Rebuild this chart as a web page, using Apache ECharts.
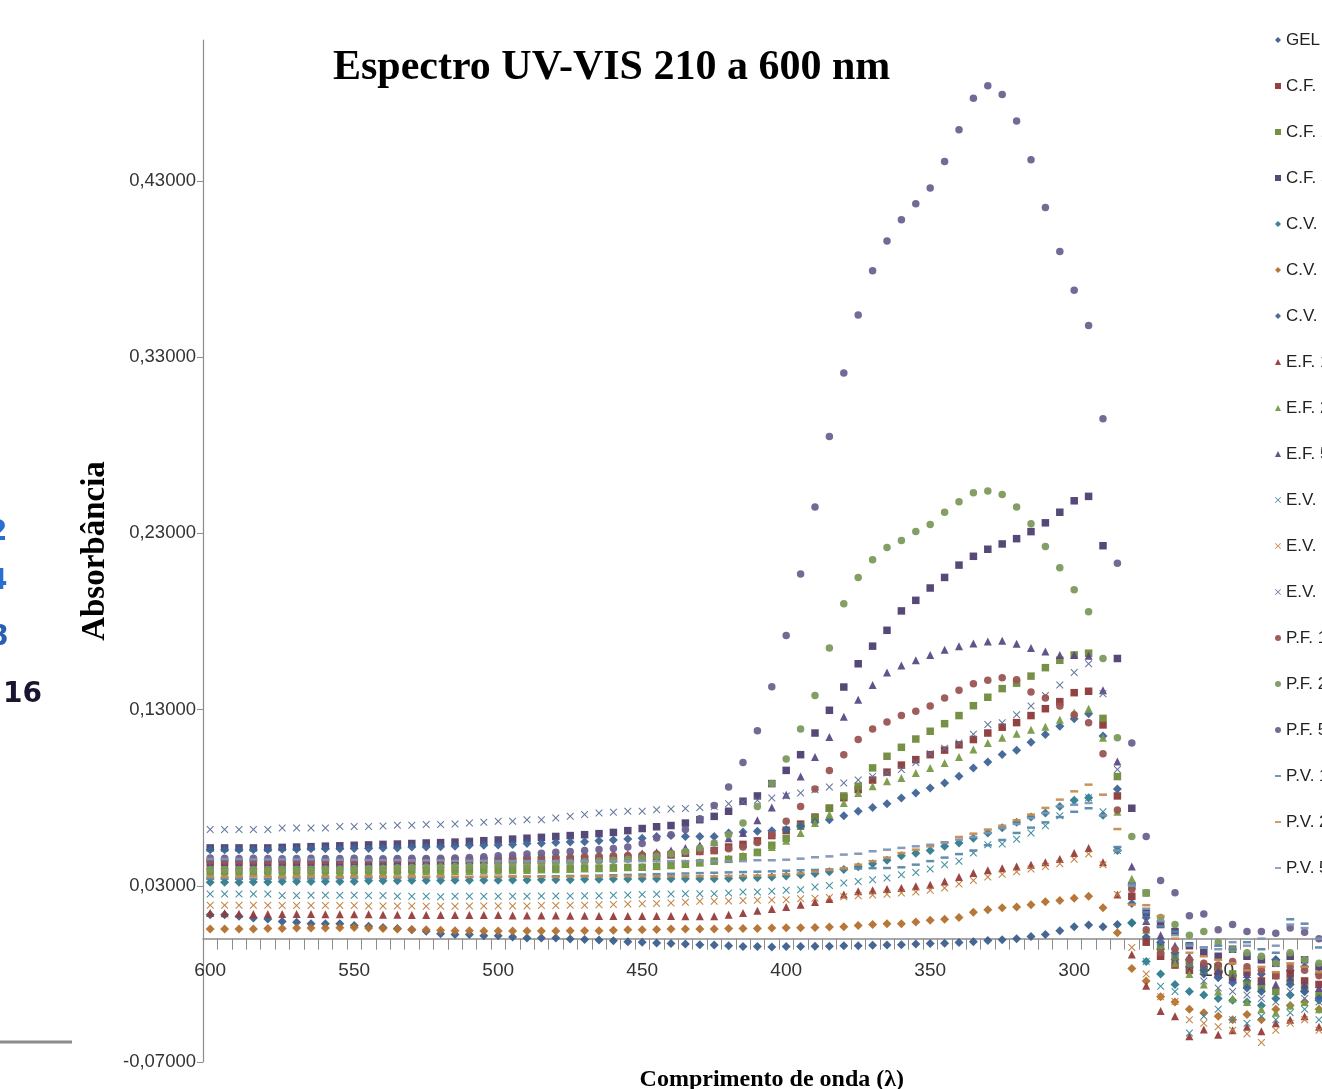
<!DOCTYPE html>
<html>
<head>
<meta charset="utf-8">
<title>Espectro UV-VIS 210 a 600 nm</title>
<script src="https://cdn.jsdelivr.net/npm/echarts@6/dist/echarts.min.js"></script>
<style>
  html, body { margin: 0; padding: 0; background: #fff; overflow: hidden; }
  #chart { width: 1500px; height: 1089px; }
</style>
</head>
<body>
<div id="chart"></div>
<script>
// comprimento de onda (nm), eixo invertido 600 -> 210
const wavelengths = [
  600, 595, 590, 585, 580, 575, 570, 565, 560, 555, 550, 545, 540, 535, 530, 525, 520, 515, 510, 505,
  500, 495, 490, 485, 480, 475, 470, 465, 460, 455, 450, 445, 440, 435, 430, 425, 420, 415, 410, 405,
  400, 395, 390, 385, 380, 375, 370, 365, 360, 355, 350, 345, 340, 335, 330, 325, 320, 315, 310, 305,
  300, 295, 290, 285, 280, 275, 270, 265, 260, 255, 250, 245, 240, 235, 230, 225, 220, 215, 210
];

const seriesNames = [
  'GEL', 'C.F. 1', 'C.F. 2', 'C.F. 5', 'C.V. 1', 'C.V. 2', 'C.V. 5',
  'E.F. 1', 'E.F. 2', 'E.F. 5', 'E.V. 1', 'E.V. 2', 'E.V. 5',
  'P.F. 1', 'P.F. 2', 'P.F. 5', 'P.V. 1', 'P.V. 2', 'P.V. 5'
];

// absorbancias (600..455 | 450..300 | 295..210)
const gel = [
  .0136,.0136,.0127,.0117,.0111,.0098,.0093,.0085,.0085,.0085,.0074,.0070,.0064,.0058,.0050,.0042,.0028,.0024,.0024,.0017,.0017,.0010,.0004,.0004,.0004,-.0002,-.0005,-.0008,-.0012,-.0017,
  -.0020,-.0024,-.0028,-.0030,-.0034,-.0036,-.0040,-.0045,-.0045,-.0047,-.0045,-.0045,-.0043,-.0043,-.0040,-.0040,-.0038,-.0036,-.0034,-.0030,-.0028,-.0026,-.0022,-.0017,-.0010,-.0006,.0000,.0012,.0023,.0045,.0068,
  .0078,.0068,.0080,.0089,.0010,-.0060,-.0120,-.0160,-.0200,-.0220,-.0210,-.0240,-.0200,-.0120,-.0180,-.0160,-.0200,-.0220
];
const cf1 = [
  .0430,.0430,.0430,.0430,.0430,.0430,.0432,.0432,.0432,.0432,.0435,.0435,.0435,.0437,.0437,.0438,.0438,.0440,.0440,.0442,.0442,.0443,.0445,.0445,.0447,.0448,.0450,.0452,.0455,.0458,
  .0462,.0468,.0475,.0485,.0495,.0500,.0520,.0535,.0555,.0585,.0615,.0650,.0690,.0740,.0800,.0846,.0900,.0945,.0985,.1016,.1044,.1070,.1100,.1130,.1167,.1200,.1226,.1266,.1305,.1345,.1396,
  .1404,.1213,.0810,.0240,-.0020,-.0100,-.0150,-.0180,-.0160,-.0200,-.0220,-.0190,-.0240,-.0210,-.0200,-.0240,-.0260,-.0280
];
const cf2 = [
  .0382,.0382,.0382,.0382,.0384,.0384,.0384,.0384,.0386,.0386,.0386,.0388,.0388,.0388,.0390,.0390,.0390,.0392,.0392,.0394,.0394,.0394,.0396,.0396,.0398,.0398,.0400,.0400,.0402,.0404,
  .0405,.0410,.0415,.0422,.0430,.0440,.0450,.0465,.0490,.0530,.0570,.0638,.0685,.0740,.0810,.0865,.0969,.1035,.1086,.1133,.1177,.1220,.1266,.1322,.1370,.1419,.1450,.1490,.1538,.1580,.1610,
  .1620,.1250,.0920,.0300,.0259,-.0040,-.0100,-.0140,-.0180,-.0160,-.0200,-.0260,-.0280,-.0300,-.0240,-.0280,-.0320,-.0340
];
const cf5 = [
  .0515,.0515,.0515,.0515,.0515,.0518,.0520,.0522,.0525,.0527,.0530,.0532,.0535,.0537,.0540,.0543,.0545,.0548,.0552,.0556,.0560,.0565,.0570,.0575,.0580,.0585,.0590,.0596,.0603,.0613,
  .0625,.0635,.0642,.0656,.0675,.0694,.0723,.0780,.0810,.0880,.0955,.1044,.1167,.1296,.1428,.1560,.1660,.1750,.1860,.1920,.1990,.2050,.2120,.2170,.2210,.2240,.2270,.2310,.2360,.2420,.2485,
  .2510,.2230,.1590,.0740,.0150,.0080,.0040,-.0040,-.0080,-.0100,-.0060,-.0100,-.0120,-.0140,-.0100,-.0120,-.0160,-.0180
];
const cv1 = [
  .0320,.0320,.0320,.0322,.0322,.0325,.0325,.0325,.0325,.0325,.0325,.0328,.0328,.0328,.0330,.0330,.0330,.0331,.0331,.0331,.0331,.0333,.0333,.0335,.0335,.0335,.0337,.0337,.0338,.0338,
  .0340,.0340,.0340,.0340,.0340,.0340,.0342,.0345,.0345,.0350,.0355,.0362,.0370,.0380,.0392,.0408,.0425,.0445,.0470,.0485,.0500,.0524,.0543,.0570,.0600,.0630,.0660,.0690,.0713,.0750,.0785,
  .0800,.0700,.0500,.0090,-.0130,-.0200,-.0260,-.0300,-.0320,-.0340,-.0350,-.0360,-.0380,-.0340,-.0320,-.0300,-.0350,-.0360
];
const cv2 = [
  .0055,.0055,.0055,.0055,.0057,.0058,.0060,.0060,.0060,.0062,.0064,.0060,.0058,.0055,.0052,.0050,.0047,.0045,.0045,.0043,.0043,.0043,.0043,.0043,.0043,.0045,.0045,.0045,.0047,.0050,
  .0050,.0052,.0055,.0055,.0055,.0055,.0057,.0058,.0058,.0060,.0062,.0062,.0064,.0066,.0068,.0074,.0080,.0085,.0085,.0095,.0105,.0110,.0120,.0150,.0164,.0176,.0180,.0193,.0210,.0216,.0230,
  .0240,.0176,.0034,-.0170,-.0240,-.0330,-.0360,-.0400,-.0420,-.0440,-.0460,-.0430,-.0460,-.0400,-.0380,-.0360,-.0400,-.0420
];
const cv5 = [
  .0505,.0505,.0505,.0505,.0505,.0507,.0507,.0510,.0510,.0510,.0512,.0512,.0515,.0515,.0520,.0520,.0522,.0525,.0530,.0530,.0532,.0535,.0540,.0542,.0545,.0548,.0550,.0555,.0560,.0565,
  .0570,.0580,.0585,.0580,.0580,.0580,.0600,.0605,.0610,.0612,.0620,.0640,.0660,.0675,.0698,.0723,.0745,.0766,.0798,.0827,.0855,.0883,.0921,.0969,.1003,.1045,.1069,.1114,.1158,.1205,.1248,
  .1277,.1150,.0850,.0200,.0120,-.0020,-.0080,-.0120,-.0180,-.0220,-.0250,-.0280,-.0300,-.0120,-.0260,-.0300,-.0340,-.0340
];
const ef1 = [
  .0146,.0144,.0142,.0140,.0140,.0140,.0140,.0140,.0138,.0138,.0138,.0138,.0136,.0136,.0134,.0134,.0134,.0134,.0134,.0134,.0134,.0132,.0132,.0132,.0132,.0130,.0130,.0128,.0128,.0128,
  .0128,.0128,.0128,.0127,.0127,.0127,.0136,.0146,.0158,.0168,.0180,.0193,.0208,.0225,.0250,.0269,.0274,.0282,.0288,.0297,.0306,.0325,.0350,.0373,.0388,.0400,.0410,.0420,.0433,.0452,.0486,
  .0515,.0433,.0250,-.0090,-.0267,-.0410,-.0440,-.0554,-.0516,-.0545,-.0520,-.0500,-.0526,-.0480,-.0460,-.0440,-.0500,-.0520
];
const ef2 = [
  .0370,.0370,.0370,.0372,.0372,.0372,.0374,.0374,.0374,.0376,.0376,.0378,.0378,.0380,.0380,.0382,.0382,.0384,.0384,.0386,.0386,.0388,.0390,.0392,.0394,.0396,.0398,.0400,.0403,.0406,
  .0410,.0415,.0420,.0428,.0435,.0442,.0455,.0470,.0490,.0520,.0555,.0600,.0656,.0704,.0770,.0827,.0865,.0893,.0912,.0940,.0969,.0997,.1031,.1073,.1110,.1140,.1163,.1186,.1203,.1243,.1283,
  .1305,.1140,.0720,.0340,.0050,-.0060,-.0140,-.0200,-.0260,-.0300,-.0340,-.0360,-.0400,-.0420,-.0380,-.0360,-.0400,-.0440
];
const ef5 = [
  .0420,.0420,.0420,.0420,.0422,.0422,.0424,.0424,.0426,.0428,.0430,.0432,.0434,.0436,.0438,.0440,.0442,.0444,.0446,.0448,.0450,.0452,.0455,.0458,.0461,.0464,.0468,.0472,.0476,.0480,
  .0485,.0490,.0500,.0515,.0530,.0550,.0570,.0600,.0672,.0745,.0817,.0920,.1031,.1144,.1260,.1356,.1440,.1510,.1550,.1580,.1610,.1640,.1660,.1675,.1686,.1690,.1674,.1650,.1630,.1610,.1610,
  .1606,.1410,.1005,.0410,.0100,.0020,-.0040,-.0100,-.0140,-.0180,-.0220,-.0200,-.0240,-.0260,-.0220,-.0260,-.0280,-.0300
];
const ev1 = [
  .0253,.0253,.0253,.0253,.0253,.0245,.0245,.0247,.0247,.0247,.0247,.0245,.0245,.0240,.0240,.0240,.0238,.0240,.0240,.0240,.0240,.0240,.0240,.0242,.0242,.0242,.0244,.0244,.0246,.0248,
  .0250,.0252,.0253,.0255,.0255,.0255,.0259,.0265,.0265,.0269,.0274,.0278,.0293,.0301,.0316,.0325,.0335,.0344,.0363,.0376,.0395,.0420,.0439,.0486,.0533,.0537,.0564,.0600,.0641,.0698,.0774,
  .0800,.0720,.0500,.0300,-.0130,-.0270,-.0300,-.0535,-.0440,-.0400,-.0460,-.0480,-.0440,-.0460,-.0420,-.0400,-.0460,-.0480
];
const ev2 = [
  .0190,.0190,.0190,.0190,.0190,.0188,.0188,.0188,.0188,.0188,.0188,.0186,.0186,.0186,.0186,.0184,.0184,.0184,.0186,.0186,.0186,.0186,.0186,.0188,.0188,.0190,.0190,.0192,.0194,.0196,
  .0198,.0200,.0203,.0207,.0212,.0212,.0214,.0216,.0218,.0220,.0221,.0226,.0230,.0234,.0238,.0244,.0248,.0252,.0259,.0265,.0275,.0288,.0310,.0330,.0350,.0365,.0380,.0395,.0410,.0425,.0450,
  .0480,.0420,.0250,-.0050,-.0200,-.0330,-.0356,-.0460,-.0480,-.0500,-.0520,-.0540,-.0590,-.0520,-.0480,-.0460,-.0520,-.0540
];
const ev5 = [
  .0620,.0620,.0620,.0620,.0620,.0628,.0628,.0628,.0628,.0636,.0636,.0636,.0640,.0644,.0644,.0648,.0648,.0650,.0656,.0660,.0666,.0666,.0675,.0675,.0685,.0694,.0704,.0713,.0717,.0723,
  .0723,.0732,.0736,.0738,.0745,.0750,.0766,.0775,.0785,.0798,.0810,.0827,.0845,.0861,.0883,.0900,.0920,.0940,.0960,.1000,.1050,.1080,.1110,.1160,.1215,.1226,.1270,.1320,.1380,.1440,.1510,
  .1560,.1390,.0960,.0300,.0100,-.0020,-.0100,-.0160,-.0240,-.0280,-.0300,-.0320,-.0340,-.0360,-.0300,-.0340,-.0360,-.0380
];
const pf1 = [
  .0440,.0440,.0440,.0440,.0440,.0440,.0442,.0442,.0442,.0444,.0444,.0446,.0446,.0448,.0448,.0450,.0450,.0452,.0452,.0454,.0454,.0456,.0458,.0460,.0462,.0464,.0466,.0468,.0470,.0472,
  .0475,.0480,.0485,.0490,.0495,.0500,.0510,.0520,.0545,.0590,.0666,.0750,.0850,.0955,.1044,.1130,.1190,.1230,.1266,.1290,.1320,.1366,.1410,.1447,.1466,.1480,.1470,.1400,.1366,.1320,.1270,
  .1226,.1050,.0730,.0280,.0050,-.0080,-.0060,-.0120,-.0140,-.0150,-.0130,-.0160,-.0180,-.0210,-.0160,-.0180,-.0210,-.0240
];
const pf2 = [
  .0392,.0392,.0392,.0392,.0392,.0394,.0394,.0394,.0396,.0396,.0398,.0398,.0400,.0402,.0404,.0406,.0408,.0410,.0412,.0414,.0416,.0418,.0420,.0424,.0428,.0432,.0436,.0440,.0445,.0450,
  .0458,.0468,.0480,.0495,.0515,.0543,.0590,.0656,.0750,.0880,.1020,.1190,.1380,.1650,.1900,.2050,.2150,.2220,.2260,.2310,.2350,.2420,.2480,.2530,.2540,.2520,.2450,.2355,.2225,.2105,.1980,
  .1855,.1590,.1140,.0580,.0260,.0120,.0080,.0020,.0040,-.0020,-.0060,-.0080,-.0100,-.0140,-.0080,-.0120,-.0140,-.0160
];
const pf5 = [
  .0458,.0456,.0455,.0456,.0455,.0454,.0455,.0456,.0455,.0455,.0456,.0455,.0454,.0455,.0456,.0455,.0456,.0458,.0460,.0465,.0470,.0475,.0480,.0485,.0490,.0495,.0500,.0506,.0512,.0520,
  .0540,.0571,.0590,.0620,.0680,.0755,.0860,.1000,.1180,.1430,.1720,.2070,.2450,.2850,.3210,.3540,.3790,.3960,.4080,.4170,.4260,.4410,.4590,.4770,.4840,.4790,.4640,.4420,.4150,.3900,.3680,
  .3480,.2950,.2130,.1110,.0580,.0330,.0260,.0130,.0140,.0050,.0080,.0040,.0040,.0030,.0060,.0036,.0000,-.0020
];
const pv1 = [
  .0340,.0340,.0340,.0340,.0340,.0342,.0342,.0342,.0342,.0344,.0344,.0344,.0346,.0346,.0346,.0348,.0348,.0348,.0350,.0350,.0350,.0352,.0352,.0354,.0354,.0356,.0356,.0358,.0360,.0362,
  .0364,.0366,.0368,.0370,.0372,.0374,.0376,.0378,.0380,.0382,.0385,.0388,.0390,.0393,.0396,.0398,.0400,.0401,.0405,.0420,.0440,.0460,.0480,.0500,.0530,.0560,.0600,.0630,.0660,.0690,.0720,
  .0740,.0700,.0520,.0310,.0150,.0070,.0040,-.0030,-.0050,-.0040,-.0060,-.0020,-.0060,-.0080,.0110,.0085,-.0050,-.0080
];
const pv2 = [
  .0352,.0350,.0352,.0354,.0352,.0350,.0352,.0354,.0352,.0350,.0352,.0354,.0352,.0350,.0352,.0352,.0354,.0352,.0350,.0352,.0352,.0354,.0352,.0352,.0350,.0352,.0353,.0353,.0354,.0354,
  .0354,.0354,.0354,.0354,.0354,.0354,.0356,.0356,.0358,.0360,.0366,.0370,.0380,.0390,.0400,.0420,.0440,.0460,.0486,.0505,.0524,.0547,.0577,.0596,.0619,.0641,.0672,.0704,.0742,.0789,.0836,
  .0874,.0817,.0622,.0193,.0190,.0127,.0000,-.0080,-.0100,-.0120,-.0140,-.0180,-.0160,-.0190,-.0140,-.0160,-.0190,-.0200
];
const pv5 = [
  .0452,.0452,.0452,.0450,.0450,.0450,.0450,.0450,.0448,.0448,.0448,.0446,.0446,.0446,.0444,.0444,.0444,.0442,.0442,.0442,.0440,.0440,.0440,.0440,.0440,.0440,.0440,.0440,.0440,.0440,
  .0440,.0440,.0440,.0440,.0440,.0440,.0440,.0440,.0445,.0445,.0448,.0454,.0462,.0467,.0477,.0482,.0496,.0505,.0515,.0524,.0533,.0545,.0562,.0577,.0600,.0628,.0651,.0685,.0713,.0751,.0760,
  .0770,.0700,.0500,.0300,.0170,.0100,.0020,-.0040,-.0050,-.0060,-.0020,-.0040,.0000,-.0040,.0080,.0060,.0000,-.0030
];

const seriesValues = [gel, cf1, cf2, cf5, cv1, cv2, cv5, ef1, ef2, ef5, ev1, ev2, ev5, pf1, pf2, pf5, pv1, pv2, pv5];

// estilo dos marcadores (estilo Excel)
const xPath = 'path://M1,0L5,4L9,0L10,1L6,5L10,9L9,10L5,6L1,10L0,9L4,5L0,1Z';
const dashPath = 'path://M0,0H10V3H0Z';
const markerStyles = [
  { symbol: 'diamond', size: 9, color: '#3b5f8c' },
  { symbol: 'rect', size: 7.5, color: '#8c3836' },
  { symbol: 'rect', size: 7.5, color: '#6f8a3c' },
  { symbol: 'rect', size: 7.5, color: '#4e3f70' },
  { symbol: 'diamond', size: 9, color: '#2f7b8e' },
  { symbol: 'diamond', size: 9, color: '#b3702e' },
  { symbol: 'diamond', size: 9, color: '#3f6496' },
  { symbol: 'triangle', size: 8, color: '#963c3a' },
  { symbol: 'triangle', size: 8, color: '#789a46' },
  { symbol: 'triangle', size: 8, color: '#5a4a84' },
  { symbol: xPath, size: 7.5, color: '#3b8a9c' },
  { symbol: xPath, size: 7.5, color: '#c0803e' },
  { symbol: xPath, size: 7.5, color: '#5f7198' },
  { symbol: 'circle', size: 7.5, color: '#9a5552' },
  { symbol: 'circle', size: 7.5, color: '#7d9a5e' },
  { symbol: 'circle', size: 7.5, color: '#6b6290' },
  { symbol: 'rect', size: [8, 2.5], color: '#5b87a9', legendIcon: dashPath },
  { symbol: 'rect', size: [8, 2.5], color: '#c88b4f', legendIcon: dashPath },
  { symbol: 'rect', size: [8, 2.5], color: '#7f95b5', legendIcon: dashPath }
];

const sans = "'Liberation Sans', Arial, sans-serif";
const serif = "'Liberation Serif', 'DejaVu Serif', serif";

const chart = echarts.init(document.getElementById('chart'));

const series = seriesNames.map(function (name, k) {
  const st = markerStyles[k];
  return {
    name: name,
    type: 'scatter',
    xAxisIndex: 0,
    symbol: st.symbol,
    symbolSize: st.size,
    itemStyle: { color: st.color, opacity: 0.95 },
    data: seriesValues[k].map(function (v, i) { return [String(wavelengths[i]), v]; })
  };
});

const catLabels = wavelengths.map(String);

const option = {
  animation: false,
  backgroundColor: '#ffffff',
  title: {
    text: 'Espectro UV-VIS 210 a 600 nm',
    left: 333,
    top: 47,
    padding: 0,
    textStyle: { fontFamily: serif, fontWeight: 'bold', fontSize: 42, color: '#000' }
  },
  legend: {
    orient: 'vertical',
    left: 1275,
    top: 29,
    padding: 0,
    itemWidth: 6,
    itemHeight: 6,
    itemGap: 24,
    selectedMode: false,
    textStyle: { fontFamily: sans, fontSize: 17, lineHeight: 22, color: '#222' },
    data: seriesNames.map(function (name, k) {
      const st = markerStyles[k];
      return st.legendIcon ? { name: name, icon: st.legendIcon } : { name: name };
    })
  },
  grid: {
    left: 203, top: 40, width: 1137.6, height: 1022,
    containLabel: false,
    outerBoundsMode: 'none'
  },
  xAxis: [
    {
      // eixo que cruza em y = 0 (linha e marcas)
      type: 'category',
      data: catLabels,
      boundaryGap: true,
      axisLine: { onZero: true, lineStyle: { color: '#8c8c8c', width: 1.5 } },
      axisTick: { show: true, interval: 0, length: 11, lineStyle: { color: '#8c8c8c' } },
      axisLabel: { show: false },
      splitLine: { show: false }
    },
    {
      // rótulos e título logo abaixo da linha do zero
      type: 'category',
      data: catLabels,
      boundaryGap: true,
      position: 'bottom',
      offset: -123,
      name: 'Comprimento de onda (λ)',
      nameLocation: 'middle',
      nameGap: 129,
      nameTextStyle: { fontFamily: serif, fontWeight: 'bold', fontSize: 24, color: '#000' },
      axisLine: { show: false, onZero: false },
      axisTick: { show: false },
      axisLabel: {
        interval: 9,
        margin: 22,
        fontFamily: sans,
        fontSize: 19,
        color: '#333'
      },
      splitLine: { show: false }
    }
  ],
  yAxis: {
    type: 'value',
    min: -0.07,
    max: 0.51,
    interval: 0.1,
    name: 'Absorbância',
    nameLocation: 'middle',
    nameGap: 82,
    nameRotate: 90,
    nameTextStyle: { fontFamily: serif, fontWeight: 'bold', fontSize: 33, color: '#000' },
    axisLine: { show: true, onZero: false, lineStyle: { color: '#8c8c8c', width: 1.2 } },
    axisTick: { show: true, length: 6, lineStyle: { color: '#8c8c8c' } },
    axisLabel: {
      margin: 7,
      fontFamily: sans,
      fontSize: 18.5,
      color: '#333',
      showMaxLabel: false,
      formatter: function (v) { return v.toFixed(5).replace('.', ','); }
    },
    splitLine: { show: false }
  },
  graphic: [
    { type: 'text', x: -12, y: 519, style: { text: '2', fill: '#2a6fd0', font: 'bold 28px "DejaVu Sans"' } },
    { type: 'text', x: -12, y: 568, style: { text: '4', fill: '#2a6fd0', font: 'bold 28px "DejaVu Sans"' } },
    { type: 'text', x: -11, y: 624, style: { text: '8', fill: '#2a5fb0', font: 'bold 28px "DejaVu Sans"' } },
    { type: 'text', x: 3, y: 681, style: { text: '16', fill: '#1a1530', font: 'bold 28px "DejaVu Sans"' } },
    { type: 'line', shape: { x1: 0, y1: 1042, x2: 72, y2: 1042 }, style: { stroke: '#8c8c8c', lineWidth: 3 } }
  ],
  series: series
};

chart.setOption(option);
</script>
</body>
</html>
